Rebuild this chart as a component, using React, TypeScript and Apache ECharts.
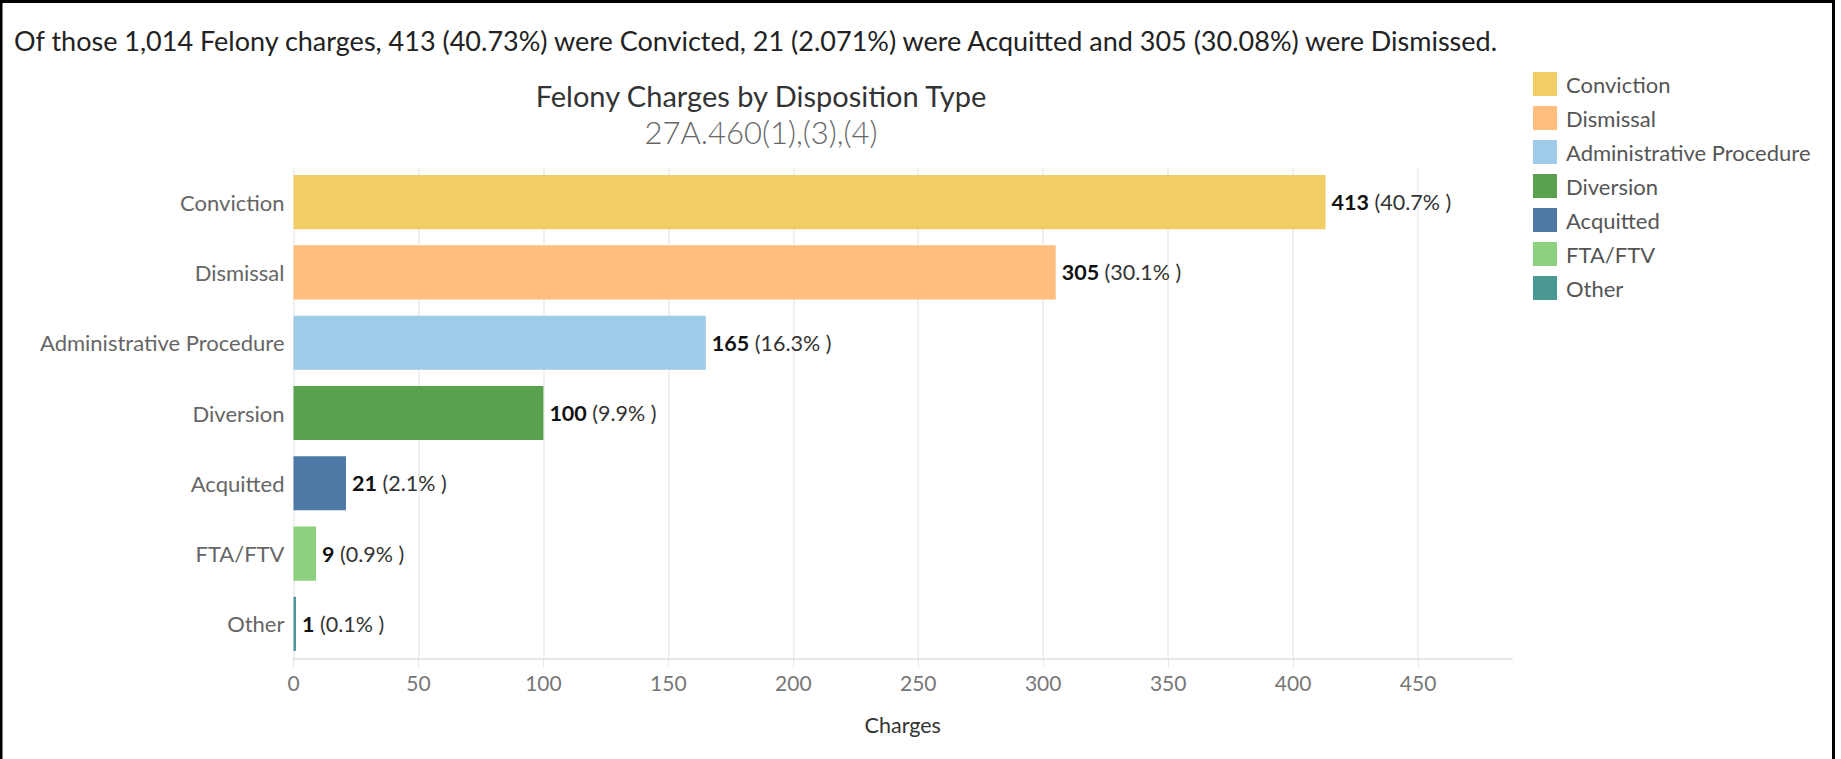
import React, { useEffect, useRef } from "react";
import * as echarts from "echarts";

const categories = [
  "Conviction",
  "Dismissal",
  "Administrative Procedure",
  "Diversion",
  "Acquitted",
  "FTA/FTV",
  "Other",
];
const charges = [413, 305, 165, 100, 21, 9, 1];
const percentLabels = ["40.7%", "30.1%", "16.3%", "9.9%", "2.1%", "0.9%", "0.1%"];
const barColors = ["#F1CE63", "#FFBE7D", "#A0CBE8", "#59A14F", "#4E79A7", "#8CD17D", "#499894"];
const axisTickStep = 50;
const axisMax = 487.6;
const headline =
  "Of those 1,014 Felony charges, 413 (40.73%) were Convicted, 21 (2.071%) were Acquitted and 305 (30.08%) were Dismissed.";
const chartTitle = "Felony Charges by Disposition Type";
const chartSubtitle = "27A.460(1),(3),(4)";
const axisName = "Charges";

const FONT = "Lato, 'Noto Sans', sans-serif";

export default function App() {
  const ref = useRef<HTMLDivElement>(null);

  useEffect(() => {
    document.body.style.margin = "0";
    const chart = echarts.init(ref.current!, undefined, { renderer: "svg" });

    const series = categories.map((name, i) => ({
      name,
      type: "bar",
      stack: "total",
      barCategoryGap: "23%",
      itemStyle: { color: barColors[i] },
      data: categories.map((_, j) => (j === i ? charges[i] : "-")),
      label: {
        show: true,
        position: "right",
        distance: 6,
        formatter: () => `{n|${charges[i]}}{p| (${percentLabels[i]} )}`,
        rich: {
          n: { fontFamily: FONT, fontSize: 21.5, fontWeight: "bold", color: "#111" },
          p: { fontFamily: FONT, fontSize: 21.5, color: "#333" },
        },
      },
      emphasis: { disabled: true },
    }));

    chart.setOption({
      animation: false,
      textStyle: { fontFamily: FONT },
      grid: { left: 293.5, top: 167, width: 1218.5, height: 492, containLabel: false },
      legend: {
        orient: "vertical",
        left: 1533,
        top: 72,
        padding: 0,
        itemWidth: 24,
        itemHeight: 24,
        itemGap: 10,
        icon: "rect",
        data: categories,
        textStyle: { fontFamily: FONT, fontSize: 22, color: "#555", padding: [0, 0, 0, 4] },
        selectedMode: false,
      },
      xAxis: {
        type: "value",
        min: 0,
        max: axisMax,
        interval: axisTickStep,
        name: axisName,
        nameLocation: "middle",
        nameGap: 55,
        nameTextStyle: { fontFamily: FONT, fontSize: 21.5, color: "#333" },
        axisLine: { show: true, lineStyle: { color: "#e6e6e6", width: 2 } },
        axisTick: { show: true, length: 8, lineStyle: { color: "#e6e6e6", width: 1 } },
        axisLabel: {
          showMaxLabel: false,
          margin: 13,
          fontFamily: FONT,
          fontSize: 21,
          color: "#777",
        },
        splitLine: {
          show: true,
          showMaxLine: false,
          lineStyle: { color: "#f0f0f0", width: 2 },
        },
      },
      yAxis: {
        type: "category",
        data: categories,
        inverse: true,
        axisLine: { show: false },
        axisTick: { show: false },
        axisLabel: { margin: 9, fontFamily: FONT, fontSize: 22, color: "#666" },
      },
      graphic: [
        {
          type: "rect",
          shape: { x: 1, y: 1.5, width: 1832.5, height: 800 },
          style: { fill: "none", stroke: "#000", lineWidth: 3 },
          silent: true,
        },
        {
          type: "text",
          x: 14,
          y: 40,
          style: {
            text: headline,
            fontFamily: FONT,
            fontSize: 27,
            fill: "#222",
            textAlign: "left",
            textVerticalAlign: "middle",
            align: "left",
            verticalAlign: "middle",
          },
        },
        {
          type: "text",
          x: 761,
          y: 95,
          style: {
            text: chartTitle,
            fontFamily: FONT,
            fontSize: 29,
            fill: "#333",
            textAlign: "center",
            textVerticalAlign: "middle",
            align: "center",
            verticalAlign: "middle",
          },
        },
        {
          type: "text",
          x: 761,
          y: 132,
          style: {
            text: chartSubtitle,
            fontFamily: FONT,
            fontSize: 31,
            fontWeight: 300,
            fill: "#666",
            textAlign: "center",
            textVerticalAlign: "middle",
            align: "center",
            verticalAlign: "middle",
          },
        },
      ],
      series,
    });

    return () => chart.dispose();
  }, []);

  return (
    <div
      ref={ref}
      style={{ position: "absolute", left: 0, top: 0, width: 1841, height: 759, background: "#fff" }}
    />
  );
}
